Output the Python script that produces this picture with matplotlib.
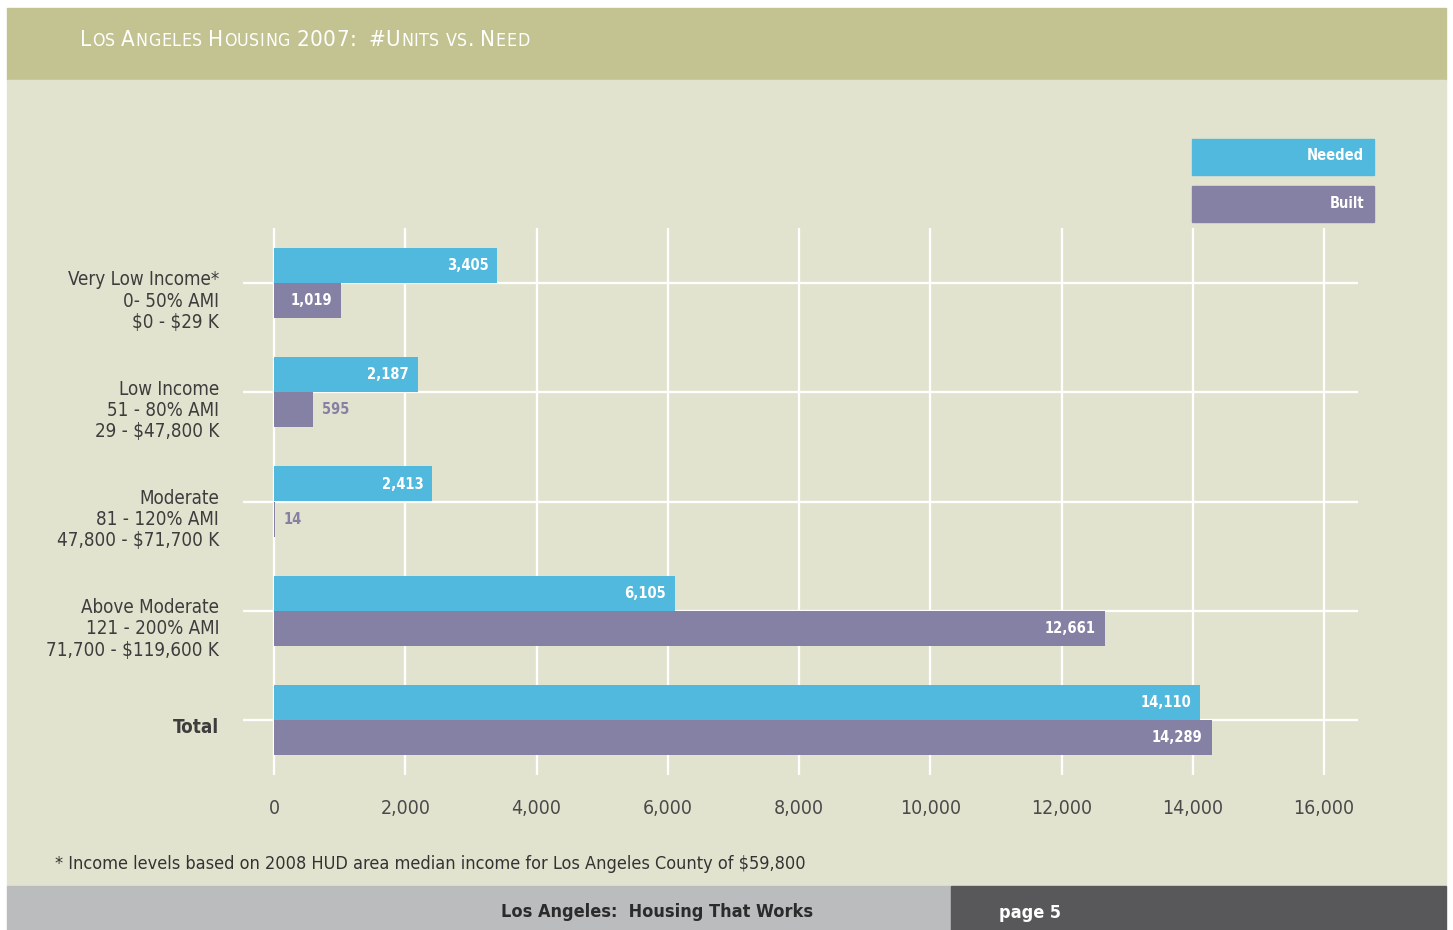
import matplotlib
matplotlib.use("Agg")
import matplotlib.pyplot as plt
from matplotlib.patches import Rectangle
from matplotlib import font_manager as fm

plt.rcParams["text.parse_math"] = False

# ---------------- data ----------------
categories = [
    "Very Low Income*\n0- 50% AMI\n$0 - $29 K",
    "Low Income\n51 - 80% AMI\n29 - $47,800 K",
    "Moderate\n81 - 120% AMI\n47,800 - $71,700 K",
    "Above Moderate\n121 - 200% AMI\n71,700 - $119,600 K",
    "Total",
]
needed = [3405, 2187, 2413, 6105, 14110]
built = [1019, 595, 14, 12661, 14289]
xticks = [0, 2000, 4000, 6000, 8000, 10000, 12000, 14000, 16000]
series_names = ["Needed", "Built"]
title_text = "Los Angeles Housing 2007:  #Units vs. Need"
footnote = "* Income levels based on 2008 HUD area median income for Los Angeles County of $59,800"
footer_left = "Los Angeles:  Housing That Works"
footer_right = "page 5"

# ---------------- fonts ----------------
def is_narrow(f):
    return (str(f.stretch) in ("condensed", "semi-condensed", "extra-condensed")
            or "Narrow" in f.name or "Condensed" in f.name)

narrow_fonts = [f for f in fm.fontManager.ttflist if is_narrow(f) and f.style == "normal"]

def pick(bold):
    best = None
    for f in narrow_fonts:
        w = f.weight if isinstance(f.weight, int) else (700 if "bold" in str(f.weight) else 400)
        if bold and w >= 600 or (not bold and 350 <= w <= 500):
            if best is None or "Liberation" in f.name:
                best = f
    return best

reg = pick(False)
bld = pick(True)

def FP(size, bold=False):
    f = bld if bold else reg
    if f is not None:
        return fm.FontProperties(fname=f.fname, size=size)
    return fm.FontProperties(family="DejaVu Sans", size=size,
                             weight="bold" if bold else "normal")

C_NEED = "#52b9de"
C_BUILT = "#8581a5"
BG = "#e2e3cf"
HEADER = "#c3c392"
TXT = "#4a4a4a"

W, H = 1453, 930
fig = plt.figure(figsize=(W / 100, H / 100), dpi=100, facecolor="white")

def fx(px):
    return px / W

def fy(py):
    return 1 - py / H

def panel(x0, y0, x1, y1, col):
    fig.patches.append(Rectangle((fx(x0), fy(y1)), fx(x1) - fx(x0), fy(y0) - fy(y1),
                                 transform=fig.transFigure, color=col, zorder=-5))

panel(7, 8, 1446, 80, HEADER)
panel(7, 80, 1446, 886, BG)
panel(7, 886, 951, 930, "#bbbcbe")
panel(951, 886, 1446, 930, "#58585a")

# ---------------- axes ----------------
x0_px, x16_px = 274, 1324
ppu = (x16_px - x0_px) / 16000.0
ax_left_px, ax_right_px = 243, 1358
ax_top_px, ax_bot_px = 228, 775
xmin = (ax_left_px - x0_px) / ppu
xmax = (ax_right_px - x0_px) / ppu
ax = fig.add_axes([fx(ax_left_px), fy(ax_bot_px), fx(ax_right_px) - fx(ax_left_px),
                   fy(ax_top_px) - fy(ax_bot_px)])
ax.set_zorder(5)
ax.set_facecolor("none")
ax.set_xlim(xmin, xmax)
cat_px = 109.25
top_u = -(283 - ax_top_px) / cat_px
bot_u = (len(categories) - 1) + (ax_bot_px - 720) / cat_px
ax.set_ylim(bot_u, top_u)
for s in ax.spines.values():
    s.set_visible(False)

for t in xticks:
    ax.axvline(t, color="white", lw=1.6, zorder=1)
ypos = list(range(len(categories)))
for y in ypos:
    ax.axhline(y, color="white", lw=1.6, zorder=1)

bh = 35 / cat_px
ax.barh([y - bh for y in ypos], needed, height=bh, align="edge", color=C_NEED, zorder=2)
ax.barh(ypos, built, height=bh, align="edge", color=C_BUILT, zorder=2)

pad = 9 / ppu
VFS = 10.5
for y, v in zip(ypos, needed):
    ax.text(v - pad, y - bh / 2, f"{v:,}", ha="right", va="center", color="white",
            fontproperties=FP(VFS, True), zorder=3)
for y, v in zip(ypos, built):
    if v > 900:
        ax.text(v - pad, y + bh / 2, f"{v:,}", ha="right", va="center", color="white",
                fontproperties=FP(VFS, True), zorder=3)
    else:
        ax.text(v + pad, y + bh / 2, f"{v:,}", ha="left", va="center", color=C_BUILT,
                fontproperties=FP(VFS, True), zorder=3)

ax.set_xticks(xticks)
ax.set_xticklabels([f"{t:,}" for t in xticks], color=TXT)
for lab in ax.get_xticklabels():
    lab.set_fontproperties(FP(14))
ax.tick_params(axis="x", length=0, pad=17)
ax.set_yticks([])

for y, lab in zip(ypos, categories):
    bold = lab == "Total"
    yy = y + (0.073 if bold else 0.165)
    ax.text((219 - x0_px) / ppu, yy, lab, ha="right", va="center",
            fontproperties=FP(13.5, bold), color="#3d3d3d",
            linespacing=1.15, clip_on=False)

# ---------------- legend ----------------
for i, (name, col) in enumerate(zip(series_names, [C_NEED, C_BUILT])):
    top = 139 + i * 47
    panel(1192, top, 1374, top + 36, col)
    fig.text(fx(1364), fy(top + 17), name, ha="right", va="center", color="white",
             fontproperties=FP(10.5, True))

# ---------------- title in small caps ----------------
def small_caps(x_px, y_px, text, big=16, small=12.8, color="white"):
    renderer = fig.canvas.get_renderer()
    x = fx(x_px)
    for ch in text:
        if ch == " ":
            x += big * 100 / 72 * 0.25 / W
            continue
        size = small if ch.islower() else big
        t = fig.text(x, fy(y_px), ch.upper(), fontproperties=FP(size), color=color,
                     va="baseline", ha="left")
        bb = t.get_window_extent(renderer=renderer)
        x += (bb.width + 0.6) / W

small_caps(80, 46, title_text)

# ---------------- footer ----------------
fig.text(fx(55), fy(864), footnote, ha="left", va="center", fontproperties=FP(13),
         color="#333333")
fig.text(fx(657), fy(912), footer_left, ha="center", va="center",
         fontproperties=FP(13, True), color="#2b2b2b")
fig.text(fx(999), fy(913), footer_right, ha="left", va="center",
         fontproperties=FP(13, True), color="white")

fig.savefig("out.png", dpi=100, facecolor="white")
